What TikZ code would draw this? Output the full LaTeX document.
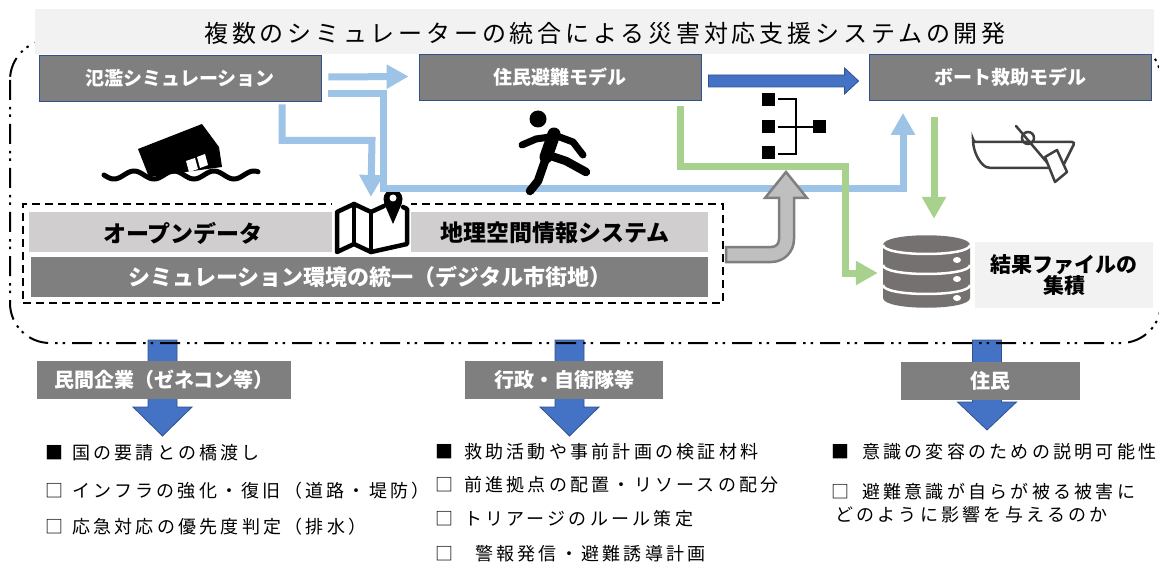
\documentclass[tikz,border=0pt]{standalone}
\usepackage{fontspec}
\setmainfont{Noto Sans CJK JP}
\newfontfamily\titlefont[LetterSpace=16]{Noto Sans CJK JP}
\newfontfamily\listfont[LetterSpace=18]{Noto Sans CJK JP}
\newcommand\fsz[1]{\fontsize{#1pt}{#1pt}\selectfont}
\usetikzlibrary{arrows.meta,calc}
\definecolor{titlebg}{HTML}{F2F2F2}
\definecolor{boxgray}{HTML}{7F7F7F}
\definecolor{boxedge}{HTML}{2F528F}
\definecolor{lblue}{HTML}{9DC3E6}
\definecolor{dblue}{HTML}{4472C4}
\definecolor{lgreen}{HTML}{A9D18E}
\definecolor{barlight}{HTML}{D0CECE}
\definecolor{uarrow}{HTML}{BFBFBF}
\definecolor{uarrowedge}{HTML}{7F7F7F}
\definecolor{dbgray}{HTML}{767171}
\definecolor{boatgray}{HTML}{404040}
\begin{document}
\begin{tikzpicture}[x=1pt,y=-1pt,
  model/.style={fill=boxgray, draw=boxedge, line width=0.8pt, inner sep=0pt,
    minimum width=282pt, minimum height=46pt, text=white, font=\fsz{19}\bfseries},
  bar/.style={inner sep=0pt, minimum height=40pt},
  tag/.style={fill=boxgray, inner sep=0pt, minimum height=38pt, text=white, font=\fsz{20}\bfseries},
  item/.style={anchor=west, inner sep=0pt, font=\listfont\fsz{18}},
  flow/.style={draw=lblue, line width=7pt},
  feed/.style={draw=lgreen, line width=7pt},
  tip/.style={-{Triangle[length=22pt,width=23pt]}},
  blockarrow/.style={fill=dblue, draw=boxedge, line width=0.8pt},
  iconline/.style={line width=2.5pt},
  mapline/.style={line width=4.5pt, line join=round, line cap=round},
  limb/.style={line cap=round, line join=round},
]
\useasboundingbox (0,0) rectangle (1159,564);

% downward block arrows towards the three user groups
\foreach \cx/\base/\tp in {162.5/407/436, 569.5/407/436, 987/402/430}{
  \filldraw[blockarrow] (\cx-14.5,340) -- (\cx+14.5,340) -- (\cx+14.5,\base) -- (\cx+29.5,\base)
    -- (\cx,\tp) -- (\cx-29.5,\base) -- (\cx-14.5,\base) -- cycle;
}

% system boundary
\draw[line width=2pt, dash pattern=on 20pt off 7pt on 2.5pt off 5pt on 2.5pt off 7pt,
  rounded corners=40pt] (10,40) rectangle (1161,343);

% title band
\node[fill=titlebg, minimum width=1119pt, minimum height=45pt, inner sep=0pt] (title) at (594.5,31.5) {};
\node[font=\titlefont\fsz{24}, inner sep=0pt] (titletext) at (605,33)
  {複数のシミュレーターの統合による災害対応支援システムの開発};

% simulation models
\node[model] (b1) at (180,78) {氾濫シミュレーション};
\node[model] (b2) at (560,77.5) {住民避難モデル};
\node[model] (b3) at (1010,77.5) {ボート救助モデル};

% common data environment
\node[draw, line width=2.2pt, dash pattern=on 8pt off 5pt, minimum width=700pt,
  minimum height=99pt, inner sep=0pt] (gis) at (373,253.5) {};
\node[bar, fill=barlight, minimum width=679pt] (od) at (368.5,232) {};
\node[bar, fill=boxgray, minimum width=677pt] (sim) at (369.5,277) {};
\node[font=\fsz{23}\bfseries, inner sep=0pt] (odtext) at (183,233) {オープンデータ};
\node[font=\fsz{23}\bfseries, inner sep=0pt] (gistext) at (555,233) {地理空間情報システム};
\node[font=\fsz{22}\bfseries, text=white, inner sep=0pt] (simtext) at (370,277)
  {シミュレーション環境の統一（デジタル市街地）};

% folded map with location pin
\fill[white] (332,201) rectangle (411,256);
\draw[mapline] (384,206) -- (371,212) -- (354,204) -- (337,212) -- (337,252) -- (354,244)
  -- (371,252) -- (407,244) -- (407,209) -- (403,207);
\draw[mapline] (354,204) -- (354,244);
\draw[mapline] (371,212) -- (371,252);
\fill (393,199) circle (9.5);
\fill (384,203) -- (402,203) -- (393,224) -- cycle;
\fill[white] (393,198) circle (3.5);

% flood simulation outputs
\draw[flow, tip] ($(b1.east)+(7,-1)$) -- ($(b2.west)+(-10,-1)$);
\coordinate (bend) at (383,189);
\draw[flow, tip] ($(b1.east)+(7,16)$) -| (bend) -| ($(b3.south)+(-107,12)$);
\draw[flow, tip] ($(b1.south)+(102,3)$) |- ++(90,36) -- ($(gis.north west)+(349,-6)$);

% result database
\node[minimum width=87pt, minimum height=73pt, inner sep=0pt] (db) at (926.5,271.5) {};
\fill[dbgray] (883,245) .. controls (883,232) and (970,232) .. (970,245) -- (970,298)
  .. controls (970,311) and (883,311) .. (883,298) -- cycle;
\foreach \yy in {245,265,285}{
  \draw[white, line width=2.5pt] (883,\yy) .. controls (883,\yy+12) and (970,\yy+12) .. (970,\yy);
}
\foreach \yy in {260,279,298}{
  \fill[white] (957,\yy) ellipse (4 and 3);
}
\node[fill=titlebg, minimum width=178pt, minimum height=66pt, inner sep=0pt,
  font=\fsz{21}\bfseries, align=center] (store) at (1064,275)
  {\fontsize{21pt}{28pt}\selectfont 結果ファイルの\\集積};

% evacuation outputs
\draw[feed, tip] ($(b2.south)+(120,5)$) |- ++(165,61) |- ($(db.west)+(-5,1.5)$);
\draw[feed, tip] ($(b3.south)+(-76,16)$) -- ($(db.north)+(7.5,-16)$);

% evacuation model to boat rescue model
\filldraw[blockarrow] ($(b2.east)+(7,-2.5)$) -- ($(b3.west)+(-24,-2.5)$) -- ($(b3.west)+(-24,-9.5)$)
  -- ($(b3.west)+(-10,3.5)$) -- ($(b3.west)+(-24,16.5)$) -- ($(b3.west)+(-24,9.5)$)
  -- ($(b2.east)+(7,9.5)$) -- cycle;

% integration arrow from the common environment
\filldraw[fill=uarrow, draw=uarrowedge, line width=2.5pt]
  ($(gis.east)+(2,-6.5)$) -- (771,247) .. controls (776,247) and (779,244) .. (779,239)
  -- (779,198) -- (765,198) -- (786,172) -- (807,198) -- (794,198) -- (794,239)
  .. controls (794,252) and (784,262) .. (771,262) -- ($(gis.east)+(2,8.5)$) -- cycle;

% integration (merge) icon
\fill (762,93) rectangle (775,106);
\fill (762,120) rectangle (775,133);
\fill (762,146) rectangle (775,159);
\fill (813,120) rectangle (826,133);
\draw[iconline] (778,99) -- (796,99) -- (796,154) -- (778,154);
\draw[iconline] (778,127) -- (813,127);

% flooded house icon
\fill (138,149) -- (202,124) -- (219,147) -- (222,167) -- (149,177) -- cycle;
\fill[white] (186,161) -- (195,158) -- (198,169) -- (189,172) -- cycle;
\fill[white] (197,157) -- (205,154) -- (208,165) -- (200,168) -- cycle;
\draw[line width=5pt, line cap=round] plot[domain=104:258, samples=90]
  (\x, {175 + 4*sin((\x-104)*9)});

% running person icon
\fill (538,119) circle (8.5);
\draw[limb, line width=13pt] (554,134) -- (546,157);
\draw[limb, line width=7pt] (550,137) -- (536,139) -- (522,145);
\draw[limb, line width=7pt] (557,136) -- (573,142) -- (583,155);
\draw[limb, line width=8.5pt] (548,155) -- (566,161) -- (586,172);
\draw[limb, line width=8.5pt] (546,158) -- (538,181) -- (530,191);

% rowing boat icon
\draw[boatgray, iconline, rounded corners=3pt] (973,142) -- (1075,142) -- (1062,168) -- (990,168)
  .. controls (982,166) and (975,156) .. (973,142) -- cycle;
\draw[boatgray, iconline, line cap=round] (1016,126) -- (1050,166);
\draw[boatgray, iconline] (1028,138) circle (6);
\filldraw[fill=white, draw=boatgray, iconline, line join=round]
  (1045,157) -- (1057,150) -- (1067,172) -- (1055,182) -- cycle;

% user groups
\node[tag, minimum width=254pt] (h1) at (164,380) {民間企業（ゼネコン等）};
\node[tag, minimum width=198pt] (h2) at (564,380) {行政・自衛隊等};
\node[tag, minimum width=179pt] (h3) at (990.5,381) {住民};

% expected uses
\node[item] (l1) at (45,453) {■\hspace{9pt}国の要請との橋渡し};
\node[item] (l2) at (45,491) {□\hspace{9pt}インフラの強化・復旧（道路・堤防）};
\node[item] (l3) at (45,527) {□\hspace{9pt}応急対応の優先度判定（排水）};
\node[item] (m1) at (435,452) {■\hspace{11pt}救助活動や事前計画の検証材料};
\node[item] (m2) at (435,485) {□\hspace{11pt}前進拠点の配置・リソースの配分};
\node[item] (m3) at (435,519) {□\hspace{11pt}トリアージのルール策定};
\node[item] (m4) at (435,554) {□\hspace{22pt}警報発信・避難誘導計画};
\node[item] (r1) at (831,452) {■\hspace{13pt}意識の変容のための説明可能性};
\node[item] (r2) at (831,492) {□\hspace{13pt}避難意識が自らが被る被害に};
\node[item] (r3) at (835,515) {どのように影響を与えるのか};
\end{tikzpicture}
\end{document}
